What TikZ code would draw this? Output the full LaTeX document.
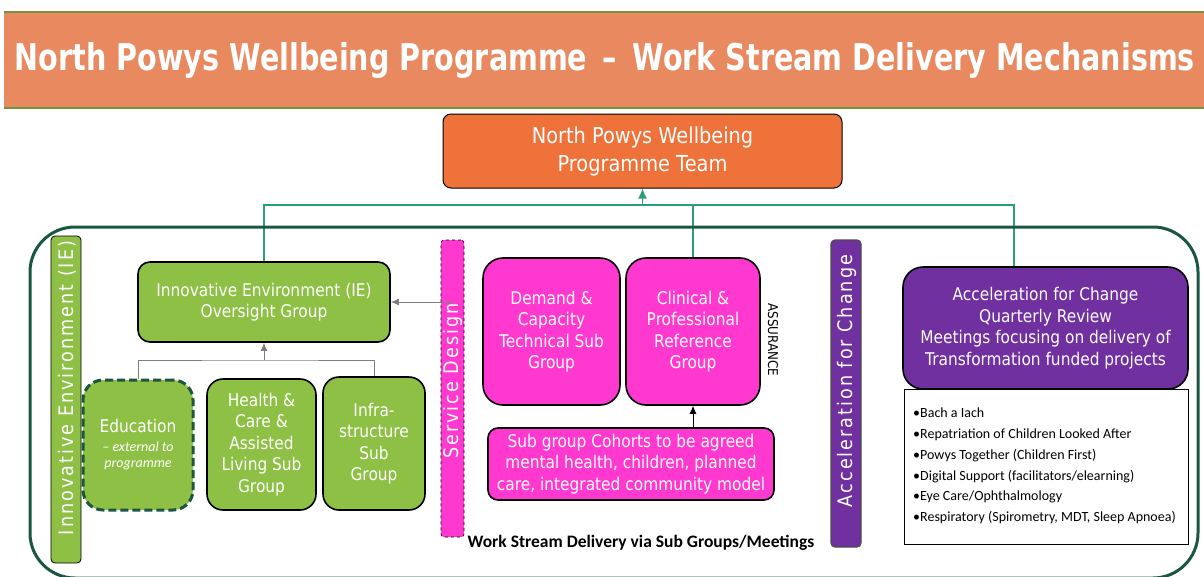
\documentclass[tikz,border=0pt]{standalone}
\usepackage{fontspec}
\setmainfont[FakeStretch=0.88]{DejaVu Sans}
\newfontfamily\barfont[FakeStretch=0.88,LetterSpace=10]{DejaVu Sans}
\newfontfamily\calib{Carlito}
\usetikzlibrary{arrows.meta}
\pgfdeclarelayer{bgA}
\pgfdeclarelayer{bgB}
\pgfsetlayers{bgA,bgB,main}
\definecolor{banner}{HTML}{E8895F}
\definecolor{bannerline}{HTML}{76923C}
\definecolor{teamor}{HTML}{EE7239}
\definecolor{grn}{HTML}{8DC044}
\definecolor{dkgreen}{HTML}{1A5641}
\definecolor{mag}{HTML}{FF38D0}
\definecolor{purp}{HTML}{7030A0}
\definecolor{tealc}{HTML}{2A9D7A}
\definecolor{grayc}{HTML}{7F7F7F}
\newcommand{\extfont}{\calib\itshape\fontsize{14}{17}\selectfont}
\begin{document}
\begin{tikzpicture}[x=1pt,y=-1pt,
  boxtxt/.style={text=white,align=center,inner sep=2pt,font=\fontsize{17.5}{21.5}\selectfont},
  grbox/.style={boxtxt,fill=grn,draw=black,line width=1.6pt,rounded corners=14pt},
  mgbox/.style={boxtxt,fill=mag,draw=black,line width=1.6pt,rounded corners=20pt},
  barlabel/.style={text=white,rotate=90,inner sep=0pt,font=\barfont\fontsize{20}{24}\selectfont},
  tealcon/.style={draw=tealc,line width=1.5pt},
  graycon/.style={draw=grayc,line width=1pt},
  tip/.style={-{Latex[length=8pt,width=7pt]}}
]
\useasboundingbox (0,0) rectangle (1204,576);
\begin{pgfonlayer}{bgA}
\fill[white] (0,0) rectangle (1204,576);
\end{pgfonlayer}

% banner
\fill[banner] (4,12) rectangle (1204,108);
\draw[bannerline,line width=1.5pt] (4,12) -- (1204,12);
\draw[bannerline,line width=1.5pt] (4,108) -- (1204,108);
\node[anchor=base,text=white,inner sep=0pt] (title) at (605,70)
  {\resizebox{1180pt}{28pt}{\bfseries North Powys Wellbeing Programme \,–\, Work Stream Delivery Mechanisms}};

% programme team
\node[boxtxt,fill=teamor,draw=black,line width=1pt,rounded corners=8pt,
  minimum width=399pt,minimum height=74pt,font=\fontsize{22}{28}\selectfont]
  (team) at (642.5,151) {North Powys Wellbeing\\Programme Team};

% vertical bars
\node[fill=grn,draw=black,line width=0.8pt,rounded corners=4pt,minimum width=30pt,minimum height=327pt,inner sep=0pt] (iebar) at (66,399.5) {};
\node[barlabel] (ielabel) at (67,388) {Innovative Environment (IE)};
\node[fill=mag,draw=black,line width=0.6pt,dashed,rounded corners=3pt,minimum width=23pt,minimum height=297pt,inner sep=0pt] (sdbar) at (452.5,388.5) {};
\node[barlabel] (sdlabel) at (453,381) {Service Design};
\node[fill=purp,draw=black!70,line width=1.2pt,rounded corners=4pt,minimum width=30pt,minimum height=307pt,inner sep=0pt] (accbar) at (846,393.5) {};
\node[barlabel] (acclabel) at (846.5,381) {Acceleration for Change};

% IE groups
\node[grbox,minimum width=252pt,minimum height=80pt,rounded corners=12pt] (over) at (264,302)
  {Innovative Environment (IE)\\Oversight Group};
\node[boxtxt,fill=grn,draw=dkgreen,line width=3pt,dash pattern=on 8pt off 4pt,rounded corners=20pt,
  minimum width=110pt,minimum height=130pt] (edu) at (138,445)
  {Education\\[-3pt]{\extfont – external to}\\[-5pt]{\extfont programme}};
\node[grbox,minimum width=109pt,minimum height=131pt,rounded corners=16pt] (hca) at (261.5,444.5)
  {Health \&\\Care \&\\Assisted\\Living Sub\\Group};
\node[grbox,minimum width=102pt,minimum height=133pt,rounded corners=16pt] (infra) at (374,443.5)
  {Infra-\\structure\\Sub\\Group};
\coordinate (jg) at (264,360);
\draw[graycon] (edu.north) |- (jg) -| (infra.north);
\draw[graycon,tip] (jg) -- (over.south);
\draw[graycon,tip] (sdbar.center |- over.east) -- (over.east);

% magenta groups
\node[mgbox,minimum width=137pt,minimum height=147pt] (dem) at (551.5,331.5)
  {Demand \&\\Capacity\\Technical Sub\\Group};
\node[mgbox,minimum width=134pt,minimum height=147pt] (clin) at (693,331.5)
  {Clinical \&\\Professional\\Reference\\Group};
\node[mgbox,minimum width=286pt,minimum height=72pt,rounded corners=10pt] (coh) at (631,464)
  {Sub group Cohorts to be agreed\\mental health, children, planned\\care, integrated community model};
\draw[black,line width=0.8pt,tip] (coh.north -| clin.center) -- (clin.south);
\node[rotate=-90,inner sep=0pt,font=\fontsize{13.5}{16}\selectfont] (assur) at (773,340) {ASSURANCE};

% acceleration
\node[boxtxt,fill=purp,draw=black,line width=1.6pt,rounded corners=20pt,
  minimum width=285pt,minimum height=122pt] (acc) at (1045.5,328)
  {Acceleration for Change\\Quarterly Review\\Meetings focusing on delivery of\\Transformation funded projects};
\node[draw=black,line width=1pt,fill=white,minimum width=284pt,minimum height=155pt] (list) at (1046,466.5) {};
\node[anchor=west,align=left,inner sep=0pt,font=\calib\fontsize{14}{20.8}\selectfont] (listtxt) at (913,466)
  {•Bach a Iach\\•Repatriation of Children Looked After\\•Powys Together (Children First)\\•Digital Support (facilitators/elearning)\\•Eye Care/Ophthalmology\\•Respiratory (Spirometry, MDT, Sleep Apnoea)};

% footer label
\node[inner sep=0pt,font=\calib\bfseries\fontsize{17.5}{20}\selectfont] (wsd) at (641,543)
  {Work Stream Delivery via Sub Groups/Meetings};

% teal connectors and frame (behind boxes)
\begin{pgfonlayer}{bgA}
\coordinate (jt) at (642.5,205);
\draw[tealcon] (over.north) |- (jt);
\draw[tealcon] (clin.north) -- (clin.north |- jt);
\draw[tealcon] (jt) -| ([xshift=-31.5pt]acc.north);
\draw[tealcon,-{Latex[length=10pt,width=9pt]}] (jt) -- (team.south);
\end{pgfonlayer}
\begin{pgfonlayer}{bgB}
\draw[dkgreen,line width=3pt,rounded corners=45pt] (30,227) rectangle (1198,578);
\end{pgfonlayer}
\end{tikzpicture}
\end{document}
